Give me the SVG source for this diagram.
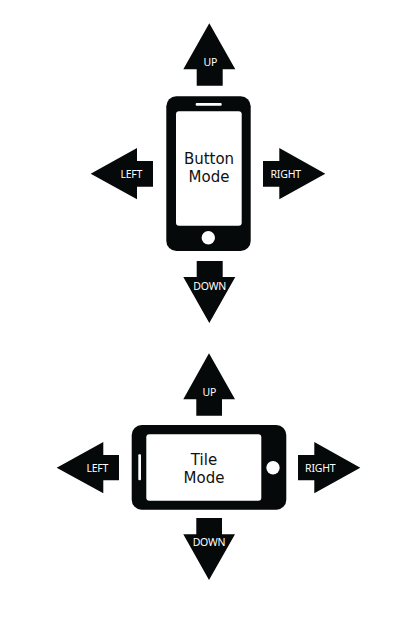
<svg xmlns="http://www.w3.org/2000/svg" width="420" height="618" viewBox="0 0 420 618">
<style>
.k{fill:#060909}
.w{fill:#fff}
text{font-family:"Noto Sans","Open Sans","DejaVu Sans",sans-serif;text-anchor:middle}
.l{font-size:10.5px;fill:#fff;letter-spacing:-.2px}
.t{font-family:"DejaVu Sans","Noto Sans",sans-serif;font-size:15px;fill:#111}
</style>
<rect width="420" height="618" fill="#fff"/>
<g id="button-phone">
<rect class="k" x="166.3" y="96.3" width="84.4" height="154.7" rx="10"/>
<rect class="w" x="176" y="111.3" width="65.7" height="114.4" rx="3"/>
<rect class="w" x="195.7" y="103" width="26" height="2.7" rx="1"/>
<circle class="w" cx="208.3" cy="237.7" r="6.7"/>
<text class="t" x="209" y="163.5">Button</text>
<text class="t" x="209" y="181.5">Mode</text>
</g>
<g id="button-arrows">
<g id="button-up"><path class="k" d="M209.3 23.3L235.3 69.3H222.7V85.7H196.7V69.3H183.3Z"/><text class="l" x="210.3" y="66.3">UP</text></g>
<g id="button-left"><path class="k" d="M90.7 173.7L137 148V161H153V186.7H137V199.3Z"/><text class="l" x="131.3" y="177.7">LEFT</text></g>
<g id="button-right"><path class="k" d="M325.3 173.7L279.3 148V161H263V186.7H279.3V199.3Z"/><text class="l" x="285.7" y="177.7">RIGHT</text></g>
<g id="button-down"><path class="k" d="M209.3 323L235.3 277H222.7V261H196.7V277H183.3Z"/><text class="l" x="209.7" y="289.7">DOWN</text></g>
</g>
<g id="tile-phone">
<rect class="k" x="131.7" y="425" width="154.6" height="84.7" rx="10"/>
<rect class="w" x="146.3" y="434.3" width="115" height="66.4" rx="3"/>
<rect class="w" x="138.3" y="454.3" width="2.7" height="26" rx="1"/>
<circle class="w" cx="273" cy="467.7" r="6.7"/>
<text class="t" x="204" y="464.5">Tile</text>
<text class="t" x="204" y="482.5">Mode</text>
</g>
<g id="tile-arrows">
<g id="tile-up"><path class="k" d="M209 353.3L235 399.3H222V415.7H196.3V399.3H183.3Z"/><text class="l" x="209.3" y="396">UP</text></g>
<g id="tile-left"><path class="k" d="M56.7 467.7L103.3 442V455H119V480.3H103.3V493.3Z"/><text class="l" x="97.3" y="471.7">LEFT</text></g>
<g id="tile-right"><path class="k" d="M360.3 467.7L314.3 442V455H298V480.3H314.3V493.3Z"/><text class="l" x="320.3" y="471.7">RIGHT</text></g>
<g id="tile-down"><path class="k" d="M209 580L235 534.3H222V518H196.3V534.3H183.3Z"/><text class="l" x="209" y="546.3">DOWN</text></g>
</g>
</svg>
